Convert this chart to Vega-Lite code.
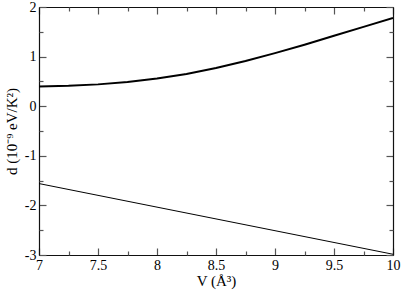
{
  "$schema": "https://vega.github.io/schema/vega-lite/v6.json",
  "width": 354,
  "height": 248,
  "autosize": "none",
  "padding": {"left": 39, "top": 7, "right": 10, "bottom": 38},
  "background": "white",
  "config": {
    "view": {"stroke": null},
    "font": "Liberation Serif",
    "axis": {
      "domainColor": "#111111",
      "domainWidth": 1.2,
      "tickColor": "#555555",
      "tickWidth": 1.2,
      "labelFont": "Liberation Serif",
      "titleFont": "Liberation Serif",
      "labelFontSize": 14,
      "titleFontSize": 15,
      "labelColor": "black",
      "titleColor": "black",
      "titleFontWeight": "normal",
      "grid": false
    }
  },
  "data": {
    "values": [
      {"V": 7.0, "d": 0.396, "s": "A"},
      {"V": 7.25, "d": 0.41, "s": "A"},
      {"V": 7.5, "d": 0.44, "s": "A"},
      {"V": 7.75, "d": 0.49, "s": "A"},
      {"V": 8.0, "d": 0.56, "s": "A"},
      {"V": 8.25, "d": 0.65, "s": "A"},
      {"V": 8.5, "d": 0.77, "s": "A"},
      {"V": 8.75, "d": 0.91, "s": "A"},
      {"V": 9.0, "d": 1.07, "s": "A"},
      {"V": 9.25, "d": 1.24, "s": "A"},
      {"V": 9.5, "d": 1.42, "s": "A"},
      {"V": 9.75, "d": 1.60, "s": "A"},
      {"V": 10.0, "d": 1.78, "s": "A"},
      {"V": 7.0, "d": -1.56, "s": "B"},
      {"V": 8.0, "d": -2.035, "s": "B"},
      {"V": 9.0, "d": -2.51, "s": "B"},
      {"V": 10.0, "d": -2.985, "s": "B"}
    ]
  },
  "layer": [
    {
      "transform": [{"filter": "datum.s === 'A'"}],
      "mark": {"type": "line", "color": "black", "strokeWidth": 2, "clip": true},
      "encoding": {
        "x": {
          "field": "V", "type": "quantitative",
          "scale": {"domain": [7, 10], "nice": false, "zero": false},
          "axis": {
            "orient": "bottom",
            "title": "V (Å³)",
            "titlePadding": 1,
            "values": [7, 7.5, 8, 8.5, 9, 9.5, 10],
            "labelExpr": "'' + datum.value",
            "tickSize": -7,
            "labelPadding": 10,
            "labelFlush": false,
            "labelOverlap": false
          }
        },
        "y": {
          "field": "d", "type": "quantitative",
          "scale": {"domain": [-3, 2], "nice": false, "zero": false},
          "axis": {
            "orient": "left",
            "title": "d (10⁻⁹ eV/K²)",
            "titlePadding": 5,
            "values": [-3, -2, -1, 0, 1, 2],
            "labelExpr": "'' + datum.value",
            "tickSize": -7,
            "labelPadding": 10,
            "labelFlush": false,
            "labelOverlap": false
          }
        }
      }
    },
    {
      "transform": [{"filter": "datum.s === 'B'"}],
      "mark": {"type": "line", "color": "black", "strokeWidth": 1, "clip": true},
      "encoding": {
        "x": {
          "field": "V", "type": "quantitative",
          "axis": {
            "orient": "top",
            "title": null,
            "labels": false,
            "values": [7, 7.5, 8, 8.5, 9, 9.5, 10],
            "tickSize": -7
          }
        },
        "y": {
          "field": "d", "type": "quantitative",
          "axis": {
            "orient": "right",
            "title": null,
            "labels": false,
            "values": [-3, -2, -1, 0, 1, 2],
            "tickSize": -7
          }
        }
      }
    },
    {
      "transform": [{"filter": "datum.s === 'A'"}],
      "mark": {"type": "line", "opacity": 0, "clip": true},
      "encoding": {
        "x": {
          "field": "V", "type": "quantitative",
          "axis": {
            "orient": "bottom",
            "title": null,
            "labels": false,
            "domain": false,
            "values": [7.25, 7.75, 8.25, 8.75, 9.25, 9.75],
            "tickSize": -4
          }
        },
        "y": {
          "field": "d", "type": "quantitative",
          "axis": {
            "orient": "left",
            "title": null,
            "labels": false,
            "domain": false,
            "values": [-2.5, -1.5, -0.5, 0.5, 1.5],
            "tickSize": -4
          }
        }
      }
    },
    {
      "transform": [{"filter": "datum.s === 'A'"}],
      "mark": {"type": "line", "opacity": 0, "clip": true},
      "encoding": {
        "x": {
          "field": "V", "type": "quantitative",
          "axis": {
            "orient": "top",
            "title": null,
            "labels": false,
            "domain": false,
            "values": [7.25, 7.75, 8.25, 8.75, 9.25, 9.75],
            "tickSize": -4
          }
        },
        "y": {
          "field": "d", "type": "quantitative",
          "axis": {
            "orient": "right",
            "title": null,
            "labels": false,
            "domain": false,
            "values": [-2.5, -1.5, -0.5, 0.5, 1.5],
            "tickSize": -4
          }
        }
      }
    }
  ],
  "resolve": {"axis": {"x": "independent", "y": "independent"}}
}
